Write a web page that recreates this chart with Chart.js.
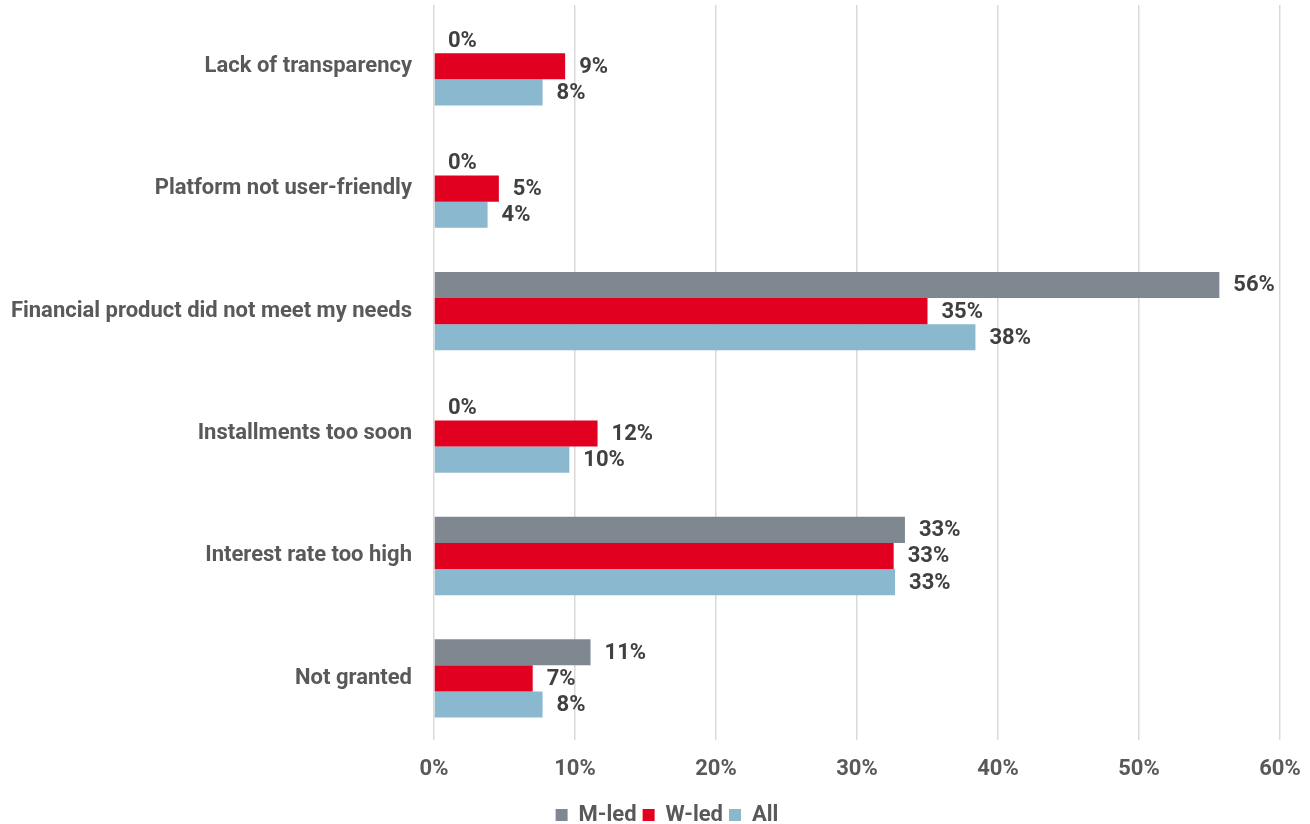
<!DOCTYPE html>
<html>
<head>
<meta charset="utf-8">
<script src="https://cdn.jsdelivr.net/npm/chart.js@4/dist/chart.umd.min.js"></script>
<style>
  html, body { margin: 0; padding: 0; background: #fff; overflow: hidden; }
  #wrap { width: 1310px; height: 836px; position: relative; }
</style>
</head>
<body>
<div id="wrap"><canvas id="bar-chart"></canvas></div>
<script>
var categorias = ["Lack of transparency", "Platform not user-friendly", "Financial product did not meet my needs",
  "Installments too soon", "Interest rate too high", "Not granted"];
var mLed = [0, 0, 55.7, 0, 33.4, 11.1];
var wLed = [9.3, 4.6, 35.0, 11.6, 32.6, 7.0];
var todos = [7.7, 3.8, 38.4, 9.6, 32.7, 7.7];
var ticksX = [0, 10, 20, 30, 40, 50, 60];

var fuente = "Roboto, 'Noto Sans', sans-serif";

// etiquetas de valor al final de cada barra
var etiquetas = {
  id: "etiquetas",
  afterLayout: function(chart) {
    // leyenda un poco a la derecha
    chart.legend.left += 27;
    chart.legend.right += 27;
  },
  afterDatasetsDraw: function(chart) {
    var ctx = chart.ctx;
    ctx.save();
    ctx.font = "bold 22px " + fuente;
    ctx.fillStyle = "#404040";
    ctx.textAlign = "left";
    ctx.textBaseline = "middle";
    chart.data.datasets.forEach(function(ds, i) {
      chart.getDatasetMeta(i).data.forEach(function(bar, j) {
        ctx.fillText(Math.round(ds.data[j]) + "%", bar.x + 14, bar.y + 1);
      });
    });
    ctx.restore();
  }
};

function charBarras(X, id) {
  new Chart(document.getElementById(id), {
    type: "bar",
    data: {
      labels: X,
      datasets: [
        { label: "M-led", backgroundColor: "#7f8891", data: mLed },
        { label: "W-led", backgroundColor: "#e10020", data: wLed },
        { label: "All", backgroundColor: "#8ab9cf", data: todos }
      ]
    },
    options: {
      indexAxis: "y",
      responsive: true,
      maintainAspectRatio: false,
      animation: false,
      layout: { padding: { top: 5, right: 30, left: 0, bottom: 0 } },
      datasets: { bar: { barPercentage: 1, categoryPercentage: 0.64 } },
      scales: {
        x: {
          min: 0, max: 60,
          afterBuildTicks: function(s) { s.ticks = ticksX.map(function(v) { return { value: v }; }); },
          afterFit: function(s) {
            s.paddingLeft = 0; s.paddingRight = 0;
            s.height -= 2;
          },
          grid: { color: "#d9d9d9", lineWidth: 1.5, drawTicks: false },
          border: { display: false },
          ticks: {
            color: "#595959", padding: 17,
            font: { family: fuente, size: 22, weight: "bold" },
            callback: function(v) { return v + "%"; }
          }
        },
        y: {
          grid: { display: false },
          border: { display: false },
          afterFit: function(s) {
            s.width = 434;
            s.paddingTop = 0; s.paddingBottom = 0;
          },
          ticks: {
            color: "#595959", padding: 14,
            font: { family: fuente, size: 22, weight: "bold" }
          }
        }
      },
      plugins: {
        legend: {
          position: "bottom",
          labels: {
            boxWidth: 12, boxHeight: 12, padding: 6,
            color: "#595959",
            font: { family: fuente, size: 22, weight: "bold" }
          }
        },
        tooltip: { enabled: false }
      }
    },
    plugins: [etiquetas]
  });
}

charBarras(categorias, "bar-chart");
</script>
</body>
</html>
